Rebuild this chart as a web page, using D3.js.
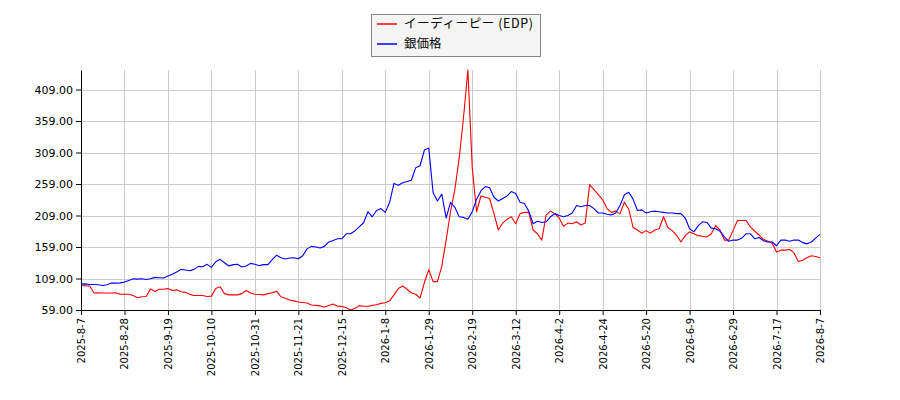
<!DOCTYPE html>
<html>
<head>
<meta charset="utf-8">
<script src="https://cdn.jsdelivr.net/npm/d3@7"></script>
<style>
  body { margin: 0; background: #fff; }
</style>
</head>
<body>
<svg id="chart"></svg>
<script>
// Tick labels for the x axis (one every 10 points)
const xTickLabels = [
  "2025-8-7", "2025-8-28", "2025-9-19", "2025-10-10", "2025-10-31", "2025-11-21",
  "2025-12-15", "2026-1-8", "2026-1-29", "2026-2-19", "2026-3-12", "2026-4-2",
  "2026-4-24", "2026-5-20", "2026-6-9", "2026-6-29", "2026-7-17", "2026-8-7"
];
const yTicks = [59, 109, 159, 209, 259, 309, 359, 409];
const seriesNames = ["イーディーピー (EDP)", "銀価格"];

// イーディーピー (EDP)
const edpValues = [
  97.5, 97.5, 97, 86, 86.5, 86, 86, 86, 86.5, 84,
  84, 84, 82, 78.5, 80, 80.5, 92.5, 88.5, 92, 92,
  93, 90, 91, 88, 87, 84, 82, 82, 82, 80.5,
  81, 93, 96, 85, 83, 83, 83, 85, 90, 86,
  84, 83.5, 83, 85, 86.5, 88.6, 80, 77.5, 75, 73.5,
  71.6, 71, 70, 67, 66.3, 65.5, 63.6, 66, 68.5, 65,
  64.7, 62.5, 59, 61.5, 66, 65, 65, 66.3, 67.3, 69.5,
  70.5, 73.5, 83, 93, 97, 92, 86, 84, 78, 103,
  123, 104, 104, 128.8, 170, 215, 250, 300, 365, 440,
  285, 215, 240, 238, 236, 212, 186, 197, 203, 207,
  196, 212, 214, 214, 186, 180, 170, 210, 216, 212,
  205, 192, 197, 196, 199, 194, 197, 258, 250, 242,
  234, 220, 214, 216, 212, 230, 219, 190, 186, 181,
  185, 181, 186, 188, 207, 190, 185, 178, 167, 177,
  183, 180, 177, 176, 175, 180, 193, 186, 170, 170,
  185, 201, 201, 201, 191, 184, 178, 171, 168, 165,
  151, 154, 154, 155, 150, 136, 138, 142, 145, 144, 142
];

// 銀価格
const silverValues = [
  100, 100.5, 99.5, 99.5, 99, 98, 99, 101.7, 101.7, 102,
  103.3, 106, 108.7, 108, 108.7, 107.5, 108.7, 110.8, 110.3, 109.7,
  113, 115.6, 119.3, 123.5, 122.5, 121.4, 123.5, 128.3, 127.7, 131.5,
  126.7, 135.6, 139.4, 134, 128.8, 131, 131.5, 127.2, 128.8, 133,
  131.5, 129.4, 131, 131, 139, 146, 142, 140, 141.5, 142,
  140.4, 145, 156, 160, 159, 157.5, 160, 167, 169.5, 172,
  172, 180, 180, 184.5, 191, 197.5, 215, 207, 217, 220,
  214, 230, 260, 257, 261, 263, 265, 285, 288, 313,
  316, 245, 232, 243, 205, 230, 222, 207, 206, 203,
  215, 235, 248, 255, 253, 238, 232, 236, 240, 247,
  244, 230, 228, 216, 196, 200, 198, 199, 207, 212,
  209, 207, 209, 213, 225, 223, 225, 225, 220, 213,
  213, 211, 210, 213, 225, 242, 246, 235, 217, 218,
  213, 215, 216, 215, 214, 213, 213, 212, 212, 205,
  188, 183, 193, 199, 198, 189, 188, 184, 175, 168,
  170, 170, 173, 180, 180, 172, 174, 169, 167, 167,
  161, 170, 170, 168, 170, 170, 166, 164, 167, 173, 179
];

const width = 900;
const height = 400;
const marginTop = 70;
const marginRight = 80;
const marginBottom = 90;
const marginLeft = 81;
const tickStep = 10;

const series = [
  { name: seriesNames[0], values: edpValues, color: "#ff0000" },
  { name: seriesNames[1], values: silverValues, color: "#0000ff" }
];

const n = edpValues.length;

// Scales
const x = d3.scaleLinear()
  .domain([0, n - 1])
  .range([marginLeft, width - marginRight]);

const y = d3.scaleLinear()
  .domain([yTicks[0], d3.max([...edpValues, ...silverValues])])
  .range([height - marginBottom, marginTop]);

const svg = d3.select("#chart")
  .attr("width", width)
  .attr("height", height)
  .attr("viewBox", [0, 0, width, height])
  .style("font-family", "'DejaVu Sans', sans-serif");

const xTickValues = xTickLabels.map((d, i) => i * tickStep);

// Grid
svg.append("g")
  .attr("stroke", "#cccccc")
  .attr("stroke-width", 1)
  .call((g) => g.selectAll("line.v")
    .data(xTickValues)
    .join("line")
    .attr("class", "v")
    .attr("x1", (d) => Math.round(x(d)) + 0.5)
    .attr("x2", (d) => Math.round(x(d)) + 0.5)
    .attr("y1", marginTop)
    .attr("y2", height - marginBottom))
  .call((g) => g.selectAll("line.h")
    .data(yTicks)
    .join("line")
    .attr("class", "h")
    .attr("x1", marginLeft)
    .attr("x2", width - marginRight)
    .attr("y1", (d) => Math.round(y(d)) + 0.5)
    .attr("y2", (d) => Math.round(y(d)) + 0.5));

// Lines
const line = d3.line()
  .x((d, i) => x(i))
  .y((d) => y(d));

svg.append("g")
  .selectAll("path")
  .data(series)
  .join("path")
  .attr("fill", "none")
  .attr("stroke", (d) => d.color)
  .attr("stroke-width", 1.1)
  .attr("stroke-linejoin", "round")
  .attr("d", (d) => line(d.values));

// Axes
svg.append("g")
  .attr("transform", `translate(0,${height - marginBottom})`)
  .call(d3.axisBottom(x)
    .tickValues(xTickValues)
    .tickFormat((d, i) => xTickLabels[i])
    .tickSize(5)
    .tickSizeOuter(0))
  .call((g) => g.select(".domain").attr("stroke", "#000"))
  .call((g) => g.selectAll(".tick text")
    .attr("font-size", 10)
    .attr("font-family", "'DejaVu Sans', sans-serif")
    .attr("fill", "#000")
    .attr("text-anchor", "end")
    .attr("transform", "rotate(-90)")
    .attr("x", -8)
    .attr("y", 0)
    .attr("dy", "0.35em"));

svg.append("g")
  .attr("transform", `translate(${marginLeft},0)`)
  .call(d3.axisLeft(y)
    .tickValues(yTicks)
    .tickFormat(d3.format(".2f"))
    .tickSize(5)
    .tickSizeOuter(0))
  .call((g) => g.select(".domain").attr("stroke", "#000"))
  .call((g) => g.selectAll(".tick text")
    .attr("font-size", 11)
    .attr("font-family", "'DejaVu Sans', sans-serif")
    .attr("fill", "#000"));

// Legend
const legend = svg.append("g").attr("transform", "translate(371,14)");
legend.append("rect")
  .attr("x", 0.5)
  .attr("y", 0.5)
  .attr("width", 169)
  .attr("height", 42)
  .attr("fill", "#f5f5f5")
  .attr("stroke", "#888")
  .attr("stroke-width", 1);

const items = legend.selectAll("g.item")
  .data(series)
  .join("g")
  .attr("class", "item")
  .attr("transform", (d, i) => `translate(0,${10 + i * 20})`);

items.append("line")
  .attr("x1", 6)
  .attr("x2", 26)
  .attr("y1", 0)
  .attr("y2", 0)
  .attr("stroke", (d) => d.color)
  .attr("stroke-width", 1.5);

items.append("text")
  .attr("x", 33)
  .attr("y", 0)
  .attr("dy", "0.35em")
  .attr("font-size", 12.5)
  .attr("letter-spacing", (d, i) => (i === 0 ? 0.6 : 0))
  .attr("font-family", "'Noto Sans CJK JP', sans-serif")
  .attr("fill", "#000")
  .text((d) => d.name);
</script>
</body>
</html>
